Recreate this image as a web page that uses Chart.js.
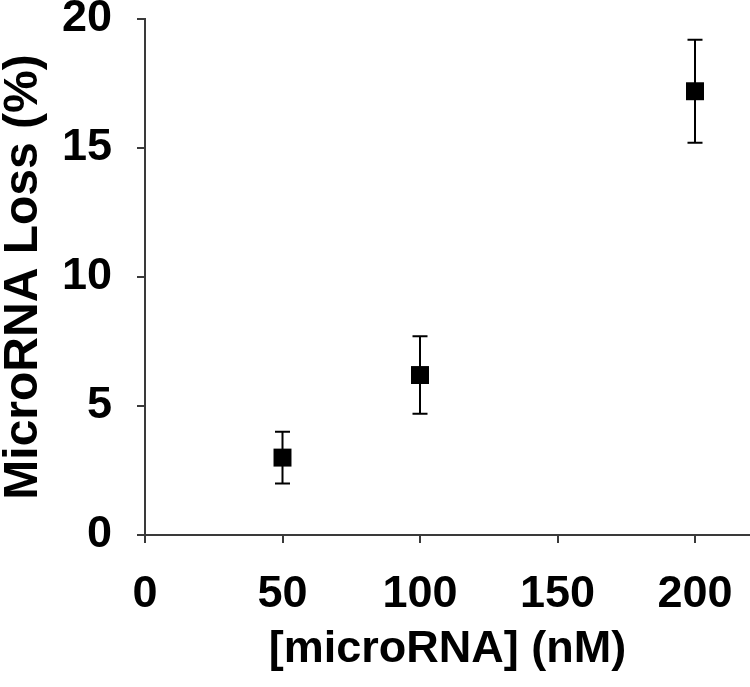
<!DOCTYPE html>
<html>
<head>
<meta charset="utf-8">
<script src="https://cdn.jsdelivr.net/npm/chart.js@4.4.1/dist/chart.umd.min.js"></script>
<style>
    html, body { margin: 0; padding: 0; background: #fff; overflow: hidden; }
    #wrap { width: 750px; height: 687px; position: relative; }
    canvas { display: block; }
</style>
</head>
<body>
<div id="wrap"><canvas id="chart"></canvas></div>
<script>
// Data
const concentrations = [50, 100, 200];      // [microRNA] (nM)
const lossPercent = [3.0, 6.2, 17.2];      // MicroRNA Loss (%)
const lossError = [1.0, 1.5, 2.0];         // +/- error

const xTicks = [0, 50, 100, 150, 200];
const yTicks = [0, 5, 10, 15, 20];

const AXIS_COLOR = '#3a3a3a';
const FONT = 'Liberation Sans, Arial, sans-serif';

// Error bar plugin: draws whiskers using the chart's scales
const errorBars = {
    id: 'errorBars',
    afterDatasetsDraw(chart) {
        const { ctx, scales: { x, y } } = chart;
        const cap = 7.5;
        ctx.save();
        ctx.strokeStyle = '#000';
        ctx.lineWidth = 2;
        concentrations.forEach((c, i) => {
            const px = x.getPixelForValue(c);
            const top = y.getPixelForValue(lossPercent[i] + lossError[i]);
            const bot = y.getPixelForValue(lossPercent[i] - lossError[i]);
            ctx.beginPath();
            ctx.moveTo(px, top);
            ctx.lineTo(px, bot);
            ctx.moveTo(px - cap, top);
            ctx.lineTo(px + cap, top);
            ctx.moveTo(px - cap, bot);
            ctx.lineTo(px + cap, bot);
            ctx.stroke();
        });
        ctx.restore();
    }
};

const ctx = document.getElementById('chart').getContext('2d');

new Chart(ctx, {
    type: 'scatter',
    data: {
        datasets: [{
            data: concentrations.map((c, i) => ({ x: c, y: lossPercent[i] })),
            pointStyle: 'rect',
            pointRadius: 12.7,
            pointHoverRadius: 12.7,
            backgroundColor: '#000',
            borderColor: '#000',
            borderWidth: 0
        }]
    },
    options: {
        responsive: true,
        maintainAspectRatio: false,
        animation: false,
        layout: { autoPadding: false, padding: { top: 19, right: 0, left: 0, bottom: 0 } },
        plugins: {
            legend: { display: false },
            tooltip: { enabled: false }
        },
        scales: {
            x: {
                type: 'linear',
                min: 0,
                max: 220,
                afterBuildTicks: (s) => { s.ticks = xTicks.map(v => ({ value: v })); },
                afterFit: (s) => {
                    s.height = 152;
                    s.paddingLeft = 0;
                    s.paddingRight = 0;
                },
                grid: { drawOnChartArea: false, drawTicks: true, tickLength: 8, color: AXIS_COLOR, lineWidth: 2 },
                border: { display: true, color: AXIS_COLOR, width: 2 },
                ticks: {
                    color: '#000',
                    padding: 25,
                    maxRotation: 0,
                    font: { family: FONT, size: 45, weight: 'bold' }
                },
                title: {
                    display: true,
                    text: '[microRNA] (nM)',
                    color: '#000',
                    padding: { top: 0, bottom: 15 },
                    font: { family: FONT, size: 45, weight: 'bold', lineHeight: 1 }
                }
            },
            y: {
                type: 'linear',
                min: 0,
                max: 20,
                afterBuildTicks: (s) => { s.ticks = yTicks.map(v => ({ value: v })); },
                afterFit: (s) => {
                    s.width = 145;
                    s.paddingTop = 0;
                    s.paddingBottom = 0;
                },
                grid: { drawOnChartArea: false, drawTicks: true, tickLength: 8, color: AXIS_COLOR, lineWidth: 2 },
                border: { display: true, color: AXIS_COLOR, width: 2 },
                ticks: {
                    color: '#000',
                    padding: 25,
                    font: { family: FONT, size: 45, weight: 'bold' }
                },
                title: {
                    display: true,
                    text: 'MicroRNA Loss (%)',
                    color: '#000',
                    padding: { top: 0, bottom: 0 },
                    font: { family: FONT, size: 48, weight: 'bold', lineHeight: 1 }
                }
            }
        }
    },
    plugins: [errorBars]
});
</script>
</body>
</html>
